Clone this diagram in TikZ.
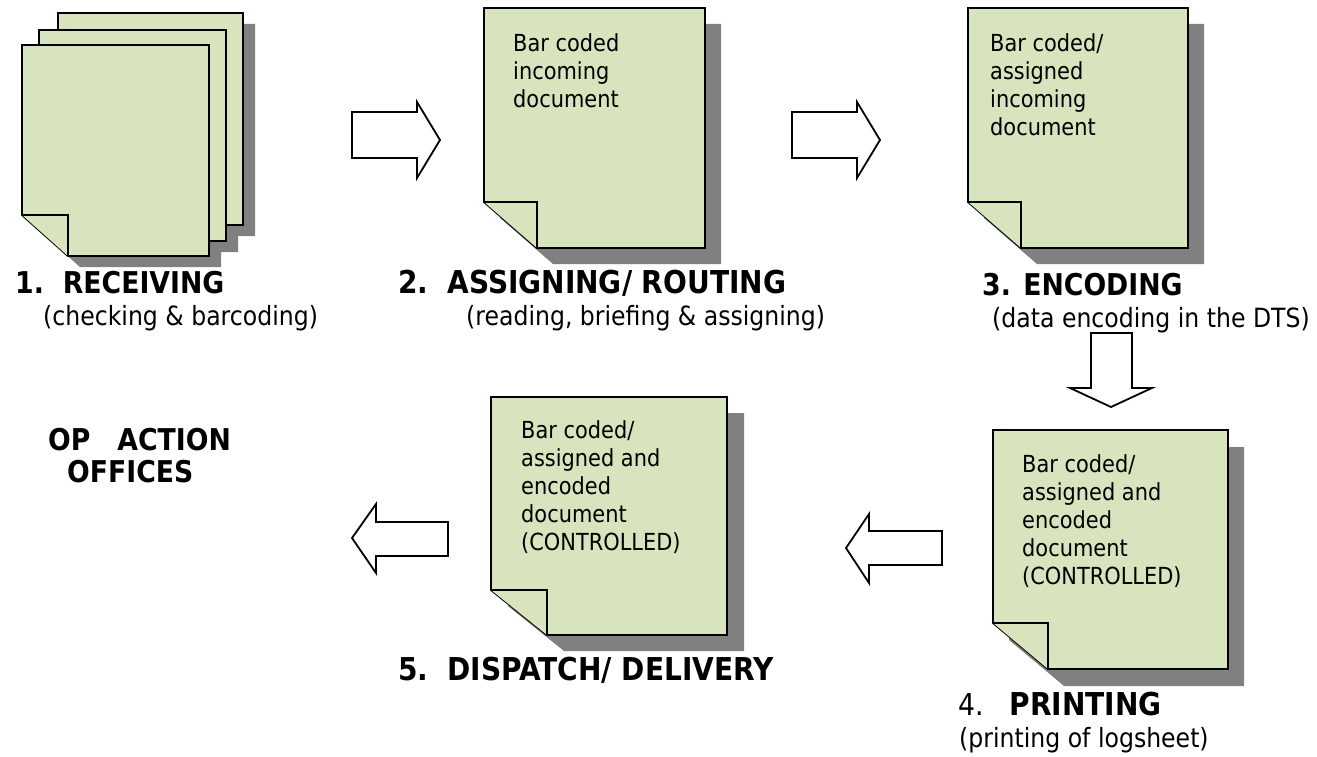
\documentclass[tikz,border=0pt]{standalone}
\usepackage{fontspec}
\setmainfont{DejaVu Sans}[FakeStretch=0.89]
\definecolor{sheetgreen}{HTML}{D7E4BD}
\definecolor{shadegray}{HTML}{808080}
% outline of a sheet with a folded corner: width, height, fold width, fold height
\newcommand{\sheetshape}[4]{(0,0) -- (#1,0) -- (#1,#2) -- (#3,#2) -- (0,{#2-#4}) -- cycle}
\newcommand{\sheetfold}[4]{(0,{#2-#4}) -- (#3,{#2-#4}) -- (#3,#2)}
\tikzset{
  sheet/.style={draw=black, fill=sheetgreen, line width=1.9pt, line join=miter},
  sheetshade/.style={fill=shadegray},
  blockarrow/.style={draw=black, fill=white, line width=1.8pt, line join=miter},
  doctext/.style={anchor=north west, inner sep=0pt, align=left, font=\fontsize{23.5}{28}\selectfont},
  steplabel/.style={anchor=base west, inner sep=0pt, align=left, font=\fontsize{30}{32}\selectfont\bfseries},
  substep/.style={anchor=base west, inner sep=0pt, font=\fontsize{26.5}{30}\selectfont},
}
\begin{document}
\begin{tikzpicture}[x=1pt, y=-1pt]
      \useasboundingbox (0,0) rectangle (1317,757);
      % stack of incoming sheets
      \fill[sheetshade, shift={(70,24)}] \sheetshape{185}{212}{46}{41};
      \fill[sheetshade, shift={(51,41)}] \sheetshape{187}{211}{46}{41};
      \fill[sheetshade, shift={(34,56)}] \sheetshape{187}{211}{46}{41};
      \draw[sheet, shift={(58,13)}] \sheetshape{185}{212}{46}{41};
      \draw[sheet, shift={(39,30)}] \sheetshape{187}{211}{46}{41};
      \draw[sheet, shift={(22,45)}] \sheetshape{187}{211}{46}{41};
      \draw[sheet, shift={(22,45)}] \sheetfold{187}{211}{46}{41};
      % sheet 2
      \fill[sheetshade, shift={(500,24)}] \sheetshape{221}{240}{53}{46};
      \draw[sheet, shift={(484,8)}] \sheetshape{221}{240}{53}{46};
      \draw[sheet, shift={(484,8)}] \sheetfold{221}{240}{53}{46};
      % sheet 3
      \fill[sheetshade, shift={(984,24)}] \sheetshape{220}{240}{53}{46};
      \draw[sheet, shift={(968,8)}] \sheetshape{220}{240}{53}{46};
      \draw[sheet, shift={(968,8)}] \sheetfold{220}{240}{53}{46};
      % sheet 4
      \fill[sheetshade, shift={(1009,447)}] \sheetshape{235}{239}{55}{46};
      \draw[sheet, shift={(993,430)}] \sheetshape{235}{239}{55}{46};
      \draw[sheet, shift={(993,430)}] \sheetfold{235}{239}{55}{46};
      % sheet 5
      \fill[sheetshade, shift={(508,413)}] \sheetshape{236}{238}{56}{45};
      \draw[sheet, shift={(491,397)}] \sheetshape{236}{238}{56}{45};
      \draw[sheet, shift={(491,397)}] \sheetfold{236}{238}{56}{45};
      % texts on the sheets
      \node (d2)[doctext] at (513,33) {Bar coded\\incoming\\document};
      \node (d3)[doctext] at (990,33) {Bar coded/\\assigned\\incoming\\document};
      \node (d4)[doctext] at (1022,454) {Bar coded/\\assigned and\\encoded\\document\\(CONTROLLED)};
      \node (d5)[doctext] at (521,420) {Bar coded/\\assigned and\\encoded\\document\\(CONTROLLED)};
      % block arrows
      \draw[blockarrow] (352,112) -- (417,112) -- (417,102) -- (440,140) -- (417,178) -- (417,158) -- (352,158) -- cycle;
      \draw[blockarrow] (792,112) -- (857,112) -- (857,102) -- (880,140) -- (857,178) -- (857,158) -- (792,158) -- cycle;
      \draw[blockarrow] (1091,333) -- (1132,333) -- (1132,388) -- (1152,388) -- (1111,407) -- (1070,388) -- (1091,388) -- cycle;
      \draw[blockarrow] (942,531) -- (869,531) -- (869,514) -- (846,548) -- (869,583) -- (869,565) -- (942,565) -- cycle;
      \draw[blockarrow] (448,522) -- (376,522) -- (376,504) -- (352,538) -- (376,573) -- (376,556) -- (448,556) -- cycle;
      % step labels
      \node (s1)[steplabel] at (15,293) {1.\hspace{19pt}RECEIVING};
      \node (c1)[substep] at (43,325) {(checking \& barcoding)};
      \node (s2)[steplabel, font=\fontsize{31.5}{32}\selectfont\bfseries] at (398,293) {2.\hspace{19pt}ASSIGNING/ ROUTING};
      \node (c2)[substep] at (466,325) {(reading, briefing \& assigning)};
      \node (s3)[steplabel] at (982,295) {3. ENCODING};
      \node (c3)[substep] at (992,327) {(data encoding in the DTS)};
      \node (s4)[substep, font=\fontsize{30}{32}\selectfont] at (958,715) {4.\hspace{26pt}{\fontsize{31.5}{32}\selectfont\bfseries PRINTING}};
      \node (c4)[substep] at (959,747) {(printing of logsheet)};
      \node (s5)[steplabel, font=\fontsize{31.5}{32}\selectfont\bfseries] at (398,680) {5.\hspace{19pt}DISPATCH/ DELIVERY};
      \node (op)[steplabel] at (48,482) {OP\hspace{27pt}ACTION\\\hspace{19pt}OFFICES};
    \end{tikzpicture}
\end{document}
